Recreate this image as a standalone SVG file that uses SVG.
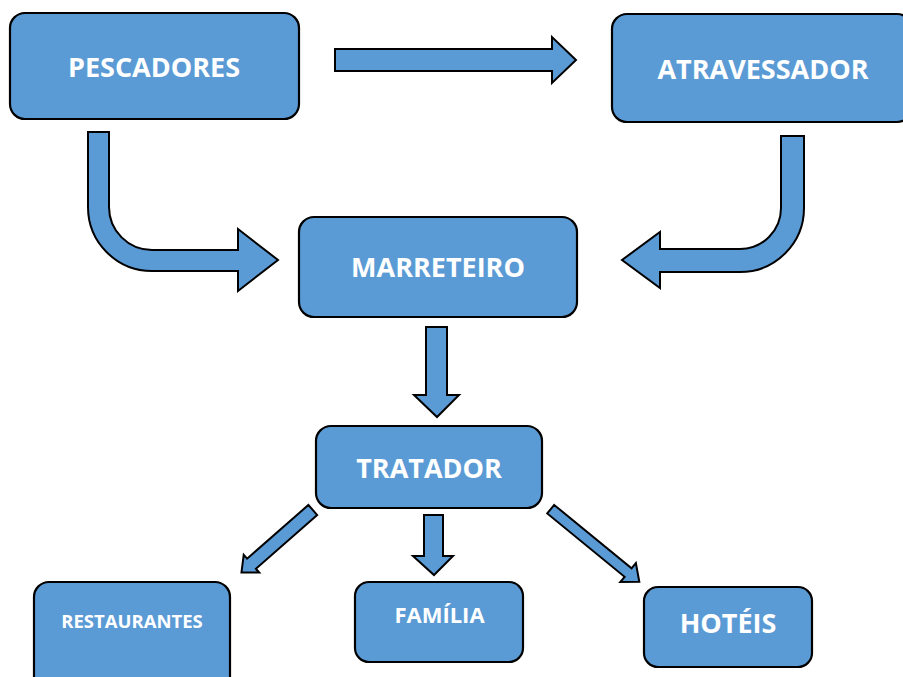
<svg xmlns="http://www.w3.org/2000/svg" width="903" height="677" viewBox="0 0 903 677">
<style>
.box{fill:#5B9BD5;stroke:#000;stroke-width:2.2}
.arr{fill:#5B9BD5;stroke:#000;stroke-width:2;stroke-linejoin:miter}
.t{fill:#fff;font-family:"Open Sans","Liberation Sans",sans-serif;font-weight:bold;text-anchor:middle}
.big{font-size:27px}
</style>
<rect width="903" height="677" fill="#fff"/>
<g id="connectors">
<path class="arr" d="M335,49 H552 V37 L576,60 L552,83 V71 H335 Z"/>
<path class="arr" d="M88,132 H109 V207 A43,43 0 0 0 152,250 H238 V229 L278,260 L238,291 V271 H152 A64,64 0 0 1 88,207 Z"/>
<path class="arr" d="M804,136 H781 V208 A41,41 0 0 1 740,249 H660 V232 L622,260 L660,288 V272 H740 A64,64 0 0 0 804,208 Z"/>
<path class="arr" d="M426,327 H447 V395 H459 L437,417 L414,395 H426 Z"/>
<path class="arr" d="M424,515 H443 V556 H453 L434,575 L413,556 H424 Z"/>
<path class="arr" transform="translate(312.8,510) rotate(138.8)" d="M0,-6.7 H81.5 V-11.8 L94.8,0 L81.5,11.8 V6.7 H0 Z"/>
<path class="arr" transform="translate(550.7,509.2) rotate(39.3)" d="M0,-5.5 H100 V-12.3 L114.5,0 L100,12.3 V5.5 H0 Z"/>
</g>
<g id="pescadores"><rect class="box" x="10" y="13" width="289" height="106" rx="15"/><text class="t big" x="154" y="77">PESCADORES</text></g>
<g id="atravessador"><rect class="box" x="612" y="14" width="300" height="108" rx="15"/><text class="t big" x="763" y="79">ATRAVESSADOR</text></g>
<g id="marreteiro"><rect class="box" x="299" y="217" width="278" height="100" rx="15"/><text class="t big" x="438" y="277">MARRETEIRO</text></g>
<g id="tratador"><rect class="box" x="316" y="426" width="226" height="82" rx="15"/><text class="t big" x="429" y="478">TRATADOR</text></g>
<g id="restaurantes"><rect class="box" x="34" y="582" width="196" height="120" rx="15"/><text class="t" font-size="18.5" x="132" y="628">RESTAURANTES</text></g>
<g id="familia"><rect class="box" x="355" y="582" width="168" height="80" rx="14"/><text class="t" font-size="22" x="439.5" y="623">FAMÍLIA</text></g>
<g id="hoteis"><rect class="box" x="644" y="587" width="168" height="80" rx="14"/><text class="t big" x="728" y="633">HOTÉIS</text></g>
</svg>
